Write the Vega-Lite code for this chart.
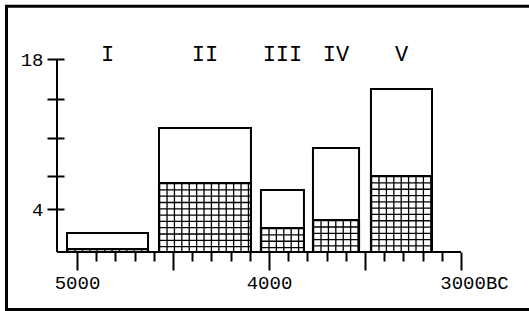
{
  "$schema": "https://vega.github.io/schema/vega-lite/v6.json",
  "width": 529,
  "height": 311,
  "autosize": "none",
  "padding": 0,
  "background": "white",
  "config": {"view": {"stroke": null}},
  "data": {
    "values": [
      {"phase": "I", "start": 5052, "end": 4630, "total": 1.77, "hatched": 0.28},
      {"phase": "II", "start": 4573, "end": 4094, "total": 11.57, "hatched": 6.44},
      {"phase": "III", "start": 4042, "end": 3818, "total": 5.78, "hatched": 2.24},
      {"phase": "IV", "start": 3771, "end": 3531, "total": 9.7, "hatched": 2.98},
      {"phase": "V", "start": 3469, "end": 3151, "total": 15.2, "hatched": 7.09}
    ]
  },
  "transform": [
    {"calculate": "(datum.start + datum.end) / 2", "as": "mid"},
    {"calculate": "datum.start - datum.end", "as": "w"},
    {"calculate": "datum.hatched / 2", "as": "hm"}
  ],
  "layer": [
    {
      "mark": {"type": "rect", "fill": "transparent", "stroke": "black", "strokeWidth": 2},
      "encoding": {
        "x": {
          "field": "start", "type": "quantitative",
          "scale": {"domain": [2645.83, 5401.04], "reverse": true, "nice": false, "zero": false},
          "axis": {
            "orient": "bottom", "offset": -59, "title": null, "domain": false, "grid": false,
            "values": [5000, 4900, 4800, 4700, 4600, 4500, 4400, 4300, 4200, 4100, 4000, 3900, 3800, 3700, 3600, 3500, 3400, 3300, 3200, 3100, 3000],
            "tickColor": "black", "tickWidth": 2,
            "tickSize": {"condition": {"test": "datum.value % 500 === 0", "value": 18}, "value": 9},
            "labelExpr": "datum.value == 5000 ? '5000' : datum.value == 4000 ? '4000' : datum.value == 3000 ? '3000BC' : ''",
            "labelFont": "Liberation Mono", "labelFontSize": 19, "labelColor": "black",
            "labelPadding": 3, "labelOverlap": false, "labelFlush": false, "labelBound": false,
            "labelOffset": {"condition": {"test": "datum.value == 3000", "value": 13}, "value": 0}
          }
        },
        "x2": {"field": "end"},
        "y": {
          "field": "total", "type": "quantitative",
          "scale": {"domain": [-5.503, 23.503], "nice": false, "zero": false},
          "axis": {
            "orient": "left", "offset": -64, "title": null, "domain": false, "grid": false,
            "values": [18, 14.3, 10.6, 7.1, 4],
            "tickColor": "black", "tickWidth": 2, "tickSize": 17,
            "labelExpr": "datum.value == 18 ? '18' : datum.value == 4 ? '4' : ''",
            "labelFont": "Liberation Mono", "labelFontSize": 19, "labelColor": "black",
            "labelPadding": 4, "labelOverlap": false, "labelFlush": false, "labelBound": false
          }
        },
        "y2": {"datum": 0}
      }
    },
    {
      "data": {"values": [{}]},
      "mark": {"type": "rect", "fill": "transparent", "stroke": "black", "strokeWidth": 3, "clip": true},
      "encoding": {
        "x": {"datum": 5367.2, "type": "quantitative", "axis": null},
        "x2": {"datum": 2400},
        "y": {"datum": 22.93, "type": "quantitative", "axis": null},
        "y2": {"datum": -5.36}
      }
    },
    {
      "mark": {"type": "rule", "color": "black", "strokeDash": [1.3, 5.0]},
      "encoding": {
        "x": {"field": "mid", "type": "quantitative", "axis": null},
        "y": {"field": "hatched", "type": "quantitative", "axis": null},
        "y2": {"datum": 0},
        "strokeWidth": {"field": "w", "type": "quantitative", "scale": {"domain": [0, 2000], "range": [0, 384], "zero": true}, "legend": null}
      }
    },
    {
      "mark": {"type": "rule", "color": "black", "strokeDash": [1.3, 6.1]},
      "encoding": {
        "x": {"field": "start", "type": "quantitative", "axis": null},
        "x2": {"field": "end"},
        "y": {"field": "hm", "type": "quantitative", "axis": null},
        "strokeWidth": {"field": "hatched", "type": "quantitative", "scale": {"domain": [0, 18], "range": [0, 193], "zero": true}, "legend": null}
      }
    },
    {
      "mark": {"type": "rect", "fill": "transparent", "stroke": "black", "strokeWidth": 2},
      "encoding": {
        "x": {"field": "start", "type": "quantitative", "axis": null},
        "x2": {"field": "end"},
        "y": {"field": "hatched", "type": "quantitative", "axis": null},
        "y2": {"datum": 0}
      }
    },
    {
      "data": {"values": [{}]},
      "mark": {"type": "rule", "color": "black", "strokeWidth": 2},
      "encoding": {
        "x": {"datum": 5104.2, "type": "quantitative", "axis": null},
        "y": {"datum": 18, "type": "quantitative", "axis": null},
        "y2": {"datum": 0}
      }
    },
    {
      "data": {"values": [{}]},
      "mark": {"type": "rule", "color": "black", "strokeWidth": 2},
      "encoding": {
        "x": {"datum": 5104.2, "type": "quantitative", "axis": null},
        "x2": {"datum": 3000},
        "y": {"datum": 0, "type": "quantitative", "axis": null}
      }
    },
    {
      "mark": {"type": "text", "font": "Liberation Mono", "fontSize": 22, "color": "black", "baseline": "middle", "align": "center"},
      "encoding": {
        "x": {"field": "mid", "type": "quantitative", "axis": null},
        "y": {"datum": 18.47, "type": "quantitative", "axis": null},
        "text": {"field": "phase", "type": "nominal"}
      }
    }
  ],
  "resolve": {"scale": {"strokeWidth": "independent"}, "axis": {"x": "independent", "y": "independent"}}
}
